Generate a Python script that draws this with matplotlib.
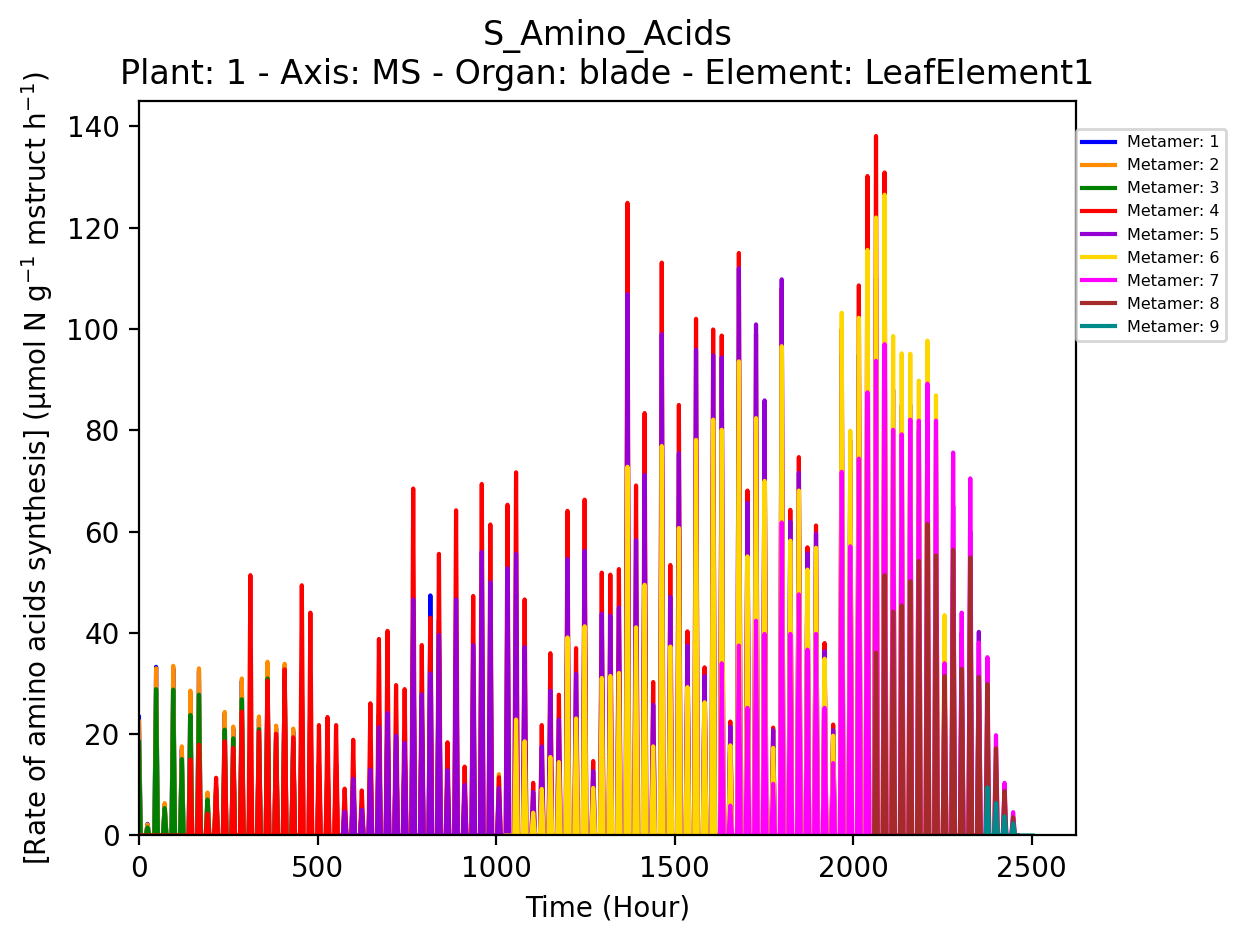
import matplotlib
matplotlib.use("Agg")
import matplotlib.pyplot as plt
import numpy as np

# Daily peak values of each metamer (one value per day, peak at 24 h * day)
metamers = [1, 2, 3, 4, 5, 6, 7, 8, 9]
colors = ["blue", "darkorange", "green", "red", "darkviolet", "gold", "magenta", "brown", "darkcyan"]
start_days = [0, 0, 0, 0, 24, 43, 68, 86, 99]
end_time = 2503  # last sample of the simulation (hours)

m1_peaks = [23.4, 2.3, 33.3, 6.0, 33.0, 17.0, 28.0, 32.5, 8.0, 9.5,
            24.0, 21.0, 30.5, 15.0, 23.0, 33.8, 21.2, 33.4, 20.6, 30.0,
            28.0, 14.0, 15.0, 14.0, 6.0, 12.0, 5.5, 16.0, 24.0, 26.0,
            19.0, 18.0, 44.0, 25.0, 47.4, 42.5]
m2_peaks = [22.5, 2.2, 33.0, 6.4, 33.5, 17.6, 28.6, 33.0, 8.5, 10.0,
            24.4, 21.5, 31.0, 16.0, 23.5, 34.3, 21.7, 33.9, 21.1, 30.0,
            28.0, 14.0, 15.0, 14.0, 6.0, 12.0, 5.5, 16.0, 24.0, 26.0,
            19.0, 18.0, 42.0, 25.0, 30.0, 36.0, 12.0, 40.0, 9.0, 30.0,
            45.0, 40.0, 12.1]
m3_peaks = [18.4, 1.6, 28.9, 5.4, 28.8, 15.1, 23.8, 27.8, 7.1, 9.0,
            20.9, 19.2, 26.9, 14.0, 21.0, 31.0, 19.5, 31.5, 18.5]
m4_peaks = [0.0, 0.0, 0.0, 0.0, 0.0, 0.0,
            15.0, 17.9, 4.3, 11.4, 18.6, 17.3, 24.5, 51.4, 20.5, 30.6,
            20.1, 32.8, 19.4, 49.4, 44.0, 21.8, 23.4, 21.8, 9.25, 18.9,
            8.9, 26.1, 38.8, 40.4, 29.7, 28.9, 68.5, 37.6, 43.0, 55.6,
            18.4, 64.2, 13.6, 47.3, 69.4, 61.4, 11.5, 65.3, 71.7, 46.6,
            10.4, 21.8, 36.0, 27.8, 64.1, 37.0, 66.3, 14.7, 51.9, 51.5,
            52.6, 124.9, 69.1, 83.4, 30.3, 113.1, 53.4, 85.0, 40.3, 102.0,
            33.2, 99.9, 98.7, 22.5, 115.0, 68.1, 99.0, 84.0, 21.3, 108.0,
            64.3, 74.7, 56.9, 61.2, 38.0, 21.9, 100.0, 78.0, 108.6, 130.2,
            138.1, 130.9]
m5_peaks = [4.7, 11.2, 5.1, 13.0, 21.4, 24.2, 19.7, 18.3, 46.6, 27.9,
            32.0, 39.6, 12.9, 46.6, 10.0, 37.6, 56.0, 50.0, 9.4, 52.8,
            55.6, 37.2, 8.6, 17.6, 28.6, 22.9, 54.6, 31.9, 56.2, 12.7,
            43.8, 43.4, 45.0, 106.9, 58.3, 71.2, 25.8, 99.0, 47.1, 75.5,
            37.5, 95.9, 31.5, 94.8, 94.4, 21.5, 112.0, 65.7, 100.9, 85.9,
            20.8, 109.8, 62.0, 71.6, 55.7, 59.6, 36.4, 20.8, 95.0, 72.0,
            95.0, 105.0, 110.0, 112.0, 88.0, 85.0, 85.0, 80.0, 88.0, 78.0,
            38.0, 65.0, 40.0, 60.0, 40.2]
m6_peaks = [0.0, 22.9, 18.6, 4.5, 9.2, 15.5, 14.5, 39.1, 23.1, 41.3,
            9.4, 31.1, 31.5, 32.1, 72.8, 41.1, 49.5, 17.6, 76.9, 37.3,
            60.7, 29.3, 78.1, 26.3, 82.1, 80.1, 17.8, 93.6, 55.1, 82.4,
            70.0, 17.3, 96.6, 58.2, 68.1, 52.5, 56.8, 34.9, 19.7, 103.2,
            79.9, 102.2, 115.6, 122.0, 126.5, 98.6, 95.2, 95.1, 89.8, 97.7,
            86.9, 43.5]
m7_peaks = [34.0, 5.9, 37.5, 25.2, 42.4, 39.8, 10.2, 61.8, 39.8, 47.6,
            36.7, 39.8, 25.2, 14.3, 71.8, 57.1, 74.4, 87.5, 93.7, 97.0,
            80.1, 79.2, 82.1, 81.9, 89.2, 81.9, 34.0, 75.6, 44.0, 70.5,
            38.1, 35.2, 19.8, 10.4, 4.6]
m8_peaks = [36.1, 51.4, 44.2, 45.4, 50.2, 54.2, 61.5, 55.3, 31.5, 56.4,
            32.9, 54.9, 31.3, 29.9, 17.2, 8.8, 3.6]
m9_peaks = [9.5, 6.4, 3.8, 2.4]

all_peaks = [m1_peaks, m2_peaks, m3_peaks, m4_peaks, m5_peaks,
             m6_peaks, m7_peaks, m8_peaks, m9_peaks]

HALF_WIDTH = 5  # hours from zero to the daily peak


def daily_curve(start_day, peaks, last=None):
    t, y = [], []
    for i, p in enumerate(peaks):
        noon = 24 * (start_day + i)
        if noon - HALF_WIDTH >= 0:
            t.append(noon - HALF_WIDTH)
            y.append(0.0)
        t += [noon, noon + HALF_WIDTH]
        y += [p, 0.0]
    t.append(last if last is not None else t[-1] + 8)
    y.append(0.0)
    return np.array(t), np.array(y)


fig = plt.figure(figsize=(6.26, 4.715), dpi=200)
ax = fig.add_axes([0.111, 0.114, 0.7484, 0.7789])

for k, (num, col, sd, peaks) in enumerate(zip(metamers, colors, start_days, all_peaks)):
    last = end_time if k == len(metamers) - 1 else None
    t, y = daily_curve(sd, peaks, last)
    ax.plot(t, y, color=col, lw=1.5, label=f"Metamer: {num}")

ax.set_xlim(0, 2624)
ax.set_ylim(bottom=0)
ax.set_xlabel("Time (Hour)")
ax.set_ylabel("[Rate of amino acids synthesis] (µmol N g$^{-1}$ mstruct h$^{-1}$)")
ax.set_title("S_Amino_Acids\nPlant: 1 - Axis: MS - Organ: blade - Element: LeafElement1")
ax.legend(loc="upper left", bbox_to_anchor=(1.0, 0.962), borderaxespad=0,
          fontsize="xx-small")

fig.savefig("out.png", dpi=200)
